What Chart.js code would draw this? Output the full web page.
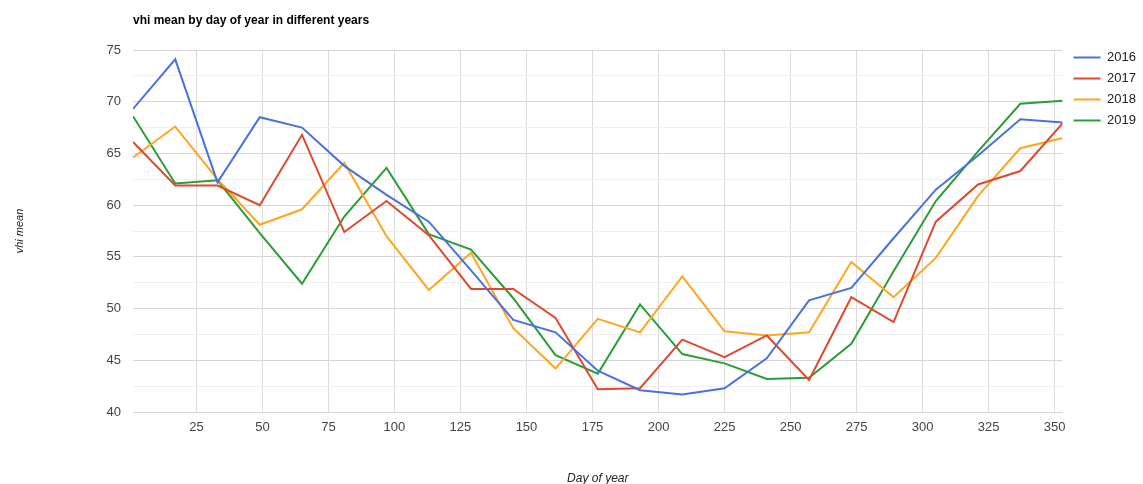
<!DOCTYPE html>
<html>
<head>
<meta charset="utf-8">
<script src="https://cdn.jsdelivr.net/npm/chart.js@4"></script>
<style>
  html, body { margin: 0; padding: 0; background: #fff; }
  #wrap { position: relative; width: 1143px; height: 484px; }
  #title {
    position: absolute; left: 133px; top: 13px;
    font: bold 12px "Liberation Sans", Arial, sans-serif; color: #000;
  }
</style>
</head>
<body>
<div id="wrap">
  <div id="title">vhi mean by day of year in different years</div>
  <canvas id="myChart" width="1143" height="484"></canvas>
</div>
<script>
/* ========== Data =============== */

const days = [1, 17, 33, 49, 65, 81, 97, 113, 129, 145, 161, 177, 193, 209, 225, 241, 257, 273, 289, 305, 321, 337, 353];

const vhi2016 = [69.3, 74.1, 62.2, 68.5, 67.5, 63.8, 61.0, 58.4, 53.7, 48.9, 47.7, 44.0, 42.1, 41.7, 42.3, 45.2, 50.8, 52.0, 56.8, 61.5, 64.8, 68.3, 68.0];
const vhi2017 = [66.1, 61.9, 61.9, 60.0, 66.8, 57.4, 60.4, 57.1, 51.9, 51.9, 49.1, 42.2, 42.3, 47.0, 45.3, 47.4, 43.1, 51.1, 48.7, 58.4, 62.0, 63.3, 67.9];
const vhi2018 = [64.6, 67.6, 62.5, 58.1, 59.6, 64.1, 57.0, 51.8, 55.4, 48.1, 44.2, 49.0, 47.7, 53.1, 47.8, 47.4, 47.7, 54.5, 51.1, 54.9, 60.9, 65.5, 66.5];
const vhi2019 = [68.6, 62.1, 62.4, 57.3, 52.4, 58.9, 63.6, 57.2, 55.7, 51.0, 45.5, 43.7, 50.4, 45.6, 44.7, 43.2, 43.3, 46.6, 53.6, 60.4, 65.2, 69.8, 70.1];

const years = ['2016', '2017', '2018', '2019'];
const colors = ['#4a72de', '#e0492f', '#ffa620', '#2a9e35'];

/* ========== Chart =============== */

function toPoints(values) {
    return values.map(function (v, i) { return { x: days[i], y: v }; });
}

const series = [vhi2016, vhi2017, vhi2018, vhi2019];

// legend sits a bit above the plot top, like the original
const legendShift = {
    id: 'legendShift',
    afterLayout: function (chart) {
        chart.legend.top -= 7;
        chart.legend.bottom -= 7;
        chart.legend.left += 3;
        chart.legend.right += 3;
    }
};

const ctx = document.getElementById('myChart');

new Chart(ctx, {
    type: 'line',
    data: {
        datasets: series.map(function (values, i) {
            return {
                label: years[i],
                data: toPoints(values),
                borderColor: colors[i],
                backgroundColor: colors[i],
                borderWidth: 2,
                pointRadius: 0,
                tension: 0,
                fill: false
            };
        })
    },
    plugins: [legendShift],
    options: {
        responsive: false,
        animation: false,
        layout: {
            padding: { top: 50, right: 0, bottom: 0, left: 0 }
        },
        plugins: {
            tooltip: { enabled: false },
            legend: {
                position: 'right',
                align: 'start',
                labels: {
                    boxWidth: 27,
                    boxHeight: 2,
                    padding: 8,
                    color: '#222',
                    font: { family: '"Liberation Sans", Arial, sans-serif', size: 13 },
                    generateLabels: function (chart) {
                        const items = Chart.defaults.plugins.legend.labels.generateLabels(chart);
                        items.forEach(function (it) { it.lineWidth = 0; });
                        return items;
                    }
                }
            }
        },
        scales: {
            x: {
                type: 'linear',
                min: 1,
                max: 353,
                afterFit: function (scale) { scale.height = 72; },
                border: { display: false },
                grid: { color: '#dcdcdc', drawTicks: false },
                ticks: {
                    stepSize: 25,
                    includeBounds: false,
                    padding: 8,
                    maxRotation: 0,
                    color: '#444',
                    font: { family: '"Liberation Sans", Arial, sans-serif', size: 13 }
                },
                title: {
                    display: true,
                    text: 'Day of year',
                    color: '#222',
                    padding: { top: 0, bottom: -2 },
                    font: { family: '"Liberation Sans", Arial, sans-serif', size: 12, style: 'italic' }
                }
            },
            y: {
                min: 40,
                max: 75,
                afterFit: function (scale) { scale.width = 133; },
                border: { display: false },
                grid: {
                    drawTicks: false,
                    color: function (c) {
                        return c.tick && c.tick.value % 5 === 0 ? '#d6d6d6' : '#efefef';
                    }
                },
                ticks: {
                    stepSize: 2.5,
                    padding: 12,
                    color: '#444',
                    font: { family: '"Liberation Sans", Arial, sans-serif', size: 13 },
                    callback: function (v) { return v % 5 === 0 ? v : ''; }
                },
                title: {
                    display: true,
                    text: 'vhi mean',
                    color: '#222',
                    padding: { top: 13, bottom: 0 },
                    font: { family: '"Liberation Sans", Arial, sans-serif', size: 11, style: 'italic' }
                }
            }
        }
    }
});
</script>
</body>
</html>
